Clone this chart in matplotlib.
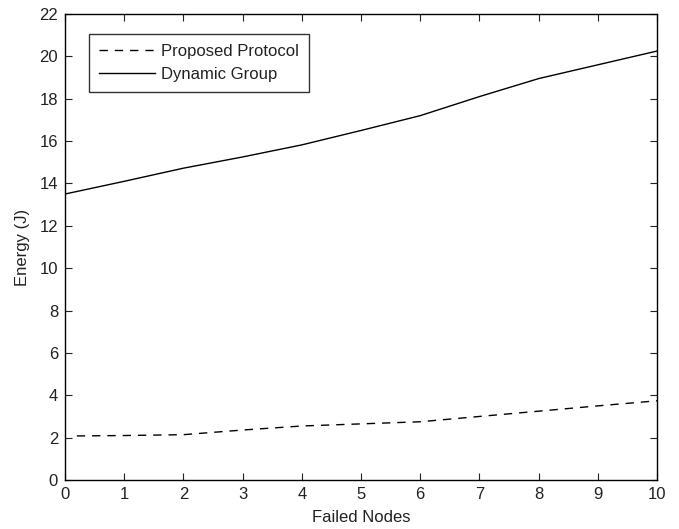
import matplotlib
matplotlib.use("Agg")
import matplotlib.pyplot as plt

# Energy consumption versus number of failed nodes
failed_nodes = [0, 1, 2, 3, 4, 5, 6, 7, 8, 9, 10]
dynamic_group = [13.5, 14.1, 14.72, 15.25, 15.82, 16.5, 17.2, 18.1, 18.95, 19.6, 20.25]

proposed_x = [0.2, 1, 2, 3, 4, 5, 6, 7, 8, 9, 10]
proposed_protocol = [2.08, 2.1, 2.14, 2.36, 2.55, 2.65, 2.75, 3.0, 3.25, 3.5, 3.74]

x_ticks = list(range(0, 11))
y_ticks = list(range(0, 23, 2))

plt.rcParams['font.family'] = ['Liberation Sans', 'DejaVu Sans']

fig = plt.figure(figsize=(6.79, 5.29), dpi=100)
ax = fig.add_axes([0.0957, 0.0926, 0.872, 0.881])

ax.plot(proposed_x, proposed_protocol, color='black', linestyle=(0, (6, 5)),
        linewidth=1.0, label='Proposed Protocol')
ax.plot(failed_nodes, dynamic_group, color='black', linestyle='-',
        linewidth=1.0, label='Dynamic Group')

ax.set_xlim(0, 10)
ax.set_ylim(0, 22)
ax.set_xticks(x_ticks)
ax.set_yticks(y_ticks)
ax.tick_params(direction='in', length=5, width=0.8, top=True, right=True,
               labelsize=12, pad=5, colors='#222222')
for s in ax.spines.values():
    s.set_linewidth(1.0)

ax.set_xlabel('Failed Nodes', fontsize=12, labelpad=6, color='#222222')
ax.set_ylabel('Energy (J)', fontsize=12, labelpad=7, color='#222222')

leg = ax.legend(loc='upper left', bbox_to_anchor=(0.04, 0.958), fontsize=12,
                frameon=True, fancybox=False, edgecolor='black',
                handlelength=3.4, handletextpad=0.35, borderpad=0.6,
                labelspacing=0.5, borderaxespad=0)
leg.get_frame().set_linewidth(1.0)
for t in leg.get_texts():
    t.set_color('#222222')

fig.savefig('out.png', dpi=100)
